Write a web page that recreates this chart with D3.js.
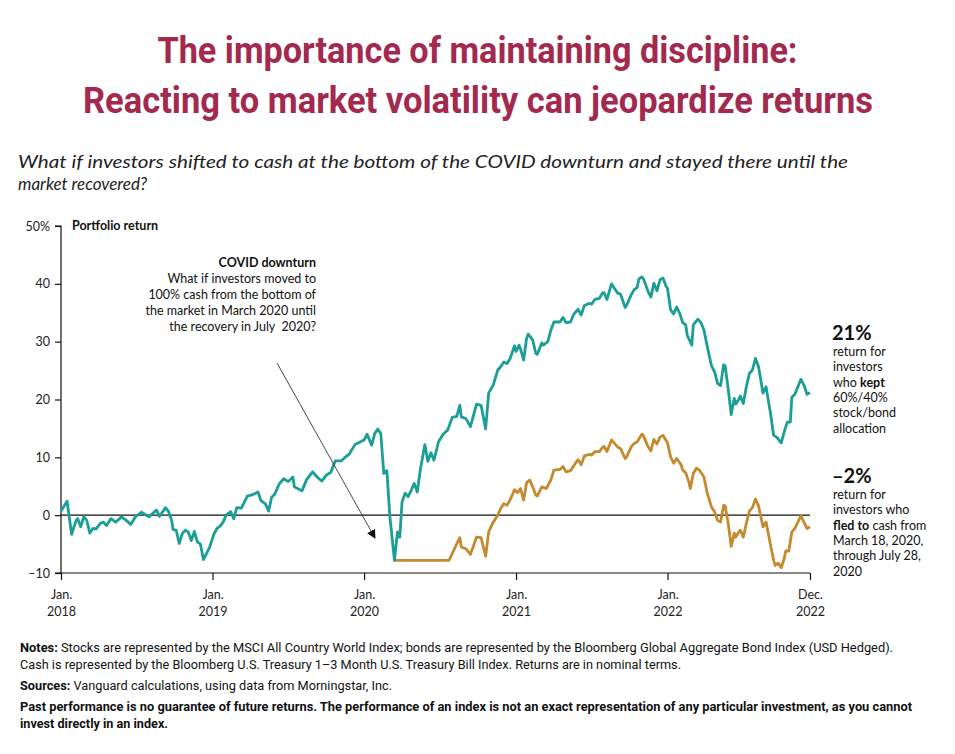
<!DOCTYPE html>
<html lang="en">
<head>
<meta charset="utf-8">
<title>The importance of maintaining discipline</title>
<script src="https://d3js.org/d3.v7.min.js"></script>
<style>
  body { margin: 0; background: #fff; }
  svg { display: block; }
  .title { fill: #a3294f; font-family: Roboto, sans-serif; font-weight: 700; font-size: 36px; }
  .sub { fill: #222; font-family: Lato, sans-serif; font-style: italic; font-size: 17px; }
  .axis text { font-family: Lato, sans-serif; font-size: 12.5px; fill: #222; }
  .lbl { font-family: Lato, sans-serif; font-size: 12.5px; fill: #111; }
  .big { font-size: 20px; font-weight: 700; }
  .foot { font-family: Roboto, sans-serif; font-size: 12px; fill: #111; }
</style>
</head>
<body>
<svg id="chart"></svg>
<script>
// decimal year, portfolio return (%)
const kept = [
  [2018.00,0.7],[2018.04,2.4],[2018.07,-3.3],[2018.10,-0.9],[2018.11,-0.6],[2018.13,-2.0],[2018.15,-0.3],
  [2018.17,-0.9],[2018.19,-3.1],[2018.21,-2.3],[2018.23,-2.4],[2018.26,-1.4],[2018.28,-1.2],[2018.30,-1.8],
  [2018.33,-0.6],[2018.36,-1.2],[2018.40,-0.3],[2018.43,-0.9],[2018.46,-1.6],[2018.49,-0.3],[2018.53,0.5],
  [2018.55,0.2],[2018.58,-0.3],[2018.63,0.9],[2018.65,-0.2],[2018.69,1.3],[2018.71,0.6],[2018.73,-0.9],
  [2018.74,-2.5],[2018.76,-2.6],[2018.78,-4.9],[2018.80,-3.2],[2018.82,-2.6],[2018.84,-2.9],[2018.86,-4.4],
  [2018.88,-2.8],[2018.90,-4.6],[2018.92,-5.0],[2018.94,-7.7],[2018.98,-5.6],[2019.01,-3.2],[2019.03,-2.3],
  [2019.05,-1.9],[2019.07,-1.2],[2019.09,0.0],[2019.12,0.6],[2019.14,-0.6],[2019.16,1.3],[2019.19,1.2],
  [2019.23,3.3],[2019.26,3.5],[2019.30,4.0],[2019.32,2.5],[2019.35,1.9],[2019.37,0.7],[2019.39,3.1],
  [2019.41,3.6],[2019.44,5.4],[2019.47,6.3],[2019.50,5.8],[2019.53,6.6],[2019.54,4.9],[2019.59,4.2],
  [2019.62,6.1],[2019.66,7.5],[2019.69,6.6],[2019.72,5.9],[2019.75,6.9],[2019.78,7.4],[2019.81,9.4],
  [2019.85,9.4],[2019.87,9.9],[2019.90,10.5],[2019.94,12.2],[2019.97,12.6],[2020.00,13.0],[2020.02,14.0],
  [2020.05,12.1],[2020.07,14.1],[2020.09,14.9],[2020.11,14.1],[2020.13,7.2],[2020.15,7.7],[2020.17,-0.3],
  [2020.20,-7.8],[2020.22,-2.9],[2020.235,-3.8],[2020.25,2.3],[2020.27,3.8],[2020.29,3.2],[2020.31,4.3],
  [2020.33,5.5],[2020.35,4.0],[2020.37,7.8],[2020.40,12.2],[2020.42,9.3],[2020.44,10.8],[2020.46,9.5],
  [2020.49,12.7],[2020.52,14.0],[2020.55,14.7],[2020.58,16.9],[2020.61,17.1],[2020.63,19.0],[2020.64,17.0],
  [2020.67,16.7],[2020.70,15.3],[2020.74,19.2],[2020.77,19.0],[2020.80,14.9],[2020.82,21.1],[2020.85,22.5],
  [2020.88,25.1],[2020.90,25.7],[2020.92,26.5],[2020.94,26.2],[2020.96,27.0],[2020.99,29.3],[2021.00,28.3],
  [2021.02,29.4],[2021.03,28.7],[2021.05,26.8],[2021.07,30.6],[2021.08,31.3],[2021.11,30.3],[2021.13,28.0],
  [2021.14,27.8],[2021.17,29.8],[2021.18,29.4],[2021.21,30.0],[2021.23,32.0],[2021.25,33.4],[2021.27,33.4],
  [2021.29,33.4],[2021.31,34.2],[2021.33,33.3],[2021.36,33.4],[2021.38,34.7],[2021.41,35.6],[2021.43,34.6],
  [2021.45,36.2],[2021.48,36.6],[2021.50,36.5],[2021.52,37.3],[2021.55,37.5],[2021.57,38.4],[2021.58,38.5],
  [2021.60,37.3],[2021.63,40.0],[2021.65,39.2],[2021.67,38.4],[2021.69,38.2],[2021.72,35.9],[2021.73,36.3],
  [2021.76,38.1],[2021.78,39.0],[2021.80,39.4],[2021.81,40.8],[2021.83,41.2],[2021.84,40.9],[2021.87,38.8],
  [2021.89,37.7],[2021.91,40.1],[2021.93,38.8],[2021.95,40.7],[2021.97,41.0],[2021.99,39.6],[2022.00,39.2],
  [2022.02,35.5],[2022.04,34.8],[2022.06,36.0],[2022.08,34.9],[2022.10,33.3],[2022.12,32.9],[2022.13,31.1],
  [2022.16,29.4],[2022.17,32.9],[2022.20,33.9],[2022.22,33.3],[2022.24,32.0],[2022.26,29.4],[2022.29,25.8],
  [2022.31,24.8],[2022.33,22.8],[2022.35,22.4],[2022.37,26.0],[2022.38,25.8],[2022.40,21.9],[2022.42,17.4],
  [2022.44,20.2],[2022.45,19.2],[2022.47,20.0],[2022.48,20.6],[2022.50,19.3],[2022.52,22.2],[2022.54,24.5],
  [2022.56,25.1],[2022.58,27.1],[2022.60,25.7],[2022.63,21.1],[2022.65,22.2],[2022.68,17.5],[2022.70,13.8],
  [2022.72,13.5],[2022.75,12.5],[2022.77,14.4],[2022.79,16.1],[2022.81,16.1],[2022.82,20.4],[2022.84,20.9],
  [2022.88,23.5],[2022.90,22.5],[2022.92,20.9],[2022.94,21.2]
];

const fled = [
  [2020.20,-7.8],[2020.56,-7.8],[2020.60,-5.5],[2020.63,-3.9],[2020.64,-5.5],[2020.67,-5.8],[2020.70,-6.8],
  [2020.74,-3.8],[2020.77,-3.9],[2020.80,-7.1],[2020.82,-2.9],[2020.85,-1.2],[2020.88,0.0],[2020.90,1.2],
  [2020.92,2.0],[2020.94,1.7],[2020.96,2.6],[2020.99,4.4],[2021.01,3.9],[2021.03,4.6],[2021.05,2.6],
  [2021.07,5.6],[2021.09,6.1],[2021.11,4.9],[2021.13,3.5],[2021.14,3.3],[2021.17,4.9],[2021.20,4.6],
  [2021.23,6.1],[2021.25,7.8],[2021.29,7.9],[2021.31,8.4],[2021.33,7.5],[2021.36,7.7],[2021.39,8.9],
  [2021.41,9.6],[2021.43,8.7],[2021.45,10.2],[2021.48,10.5],[2021.50,10.4],[2021.52,11.0],[2021.55,11.0],
  [2021.57,11.7],[2021.58,11.9],[2021.60,11.0],[2021.63,13.0],[2021.65,12.4],[2021.67,11.8],[2021.69,11.5],
  [2021.72,9.8],[2021.73,10.1],[2021.76,11.8],[2021.78,12.4],[2021.80,12.7],[2021.83,14.0],[2021.84,13.8],
  [2021.87,11.9],[2021.89,11.1],[2021.91,13.1],[2021.93,12.3],[2021.95,13.5],[2021.97,13.8],[2021.99,12.9],
  [2022.00,12.5],[2022.02,10.1],[2022.04,9.0],[2022.06,9.8],[2022.09,8.7],[2022.10,7.8],[2022.12,7.3],
  [2022.14,5.8],[2022.15,4.6],[2022.17,7.2],[2022.19,8.1],[2022.21,7.8],[2022.24,6.6],[2022.26,4.0],
  [2022.29,1.4],[2022.31,0.6],[2022.33,-0.9],[2022.35,-1.2],[2022.37,1.7],[2022.38,1.6],[2022.40,-1.4],
  [2022.42,-5.4],[2022.44,-3.1],[2022.45,-3.8],[2022.47,-2.9],[2022.48,-2.6],[2022.50,-3.8],[2022.52,-1.4],
  [2022.54,0.7],[2022.56,1.3],[2022.58,2.8],[2022.60,1.6],[2022.63,-2.0],[2022.65,-1.2],[2022.68,-5.2],
  [2022.70,-7.8],[2022.71,-8.7],[2022.73,-8.3],[2022.75,-9.1],[2022.77,-7.5],[2022.78,-6.2],[2022.80,-6.2],
  [2022.82,-2.9],[2022.84,-2.3],[2022.88,-0.1],[2022.90,-1.2],[2022.92,-2.3],[2022.94,-2.0]
];

const yTicks = [-10, 0, 10, 20, 30, 40, 50];
const xTickYears = [2018, 2019, 2020, 2021, 2022, 2022.94];
const xTickLabels = [["Jan.","2018"],["Jan.","2019"],["Jan.","2020"],["Jan.","2021"],["Jan.","2022"],["Dec.","2022"]];

const width = 955, height = 754;
const margin = {left: 61, right: 145, top: 226, bottom: 181};

// decimal year -> Date
const toDate = y => {
  const yr = Math.floor(y);
  const a = new Date(yr, 0, 1), b = new Date(yr + 1, 0, 1);
  return new Date(+a + (y - yr) * (b - a));
};

const svg = d3.select("#chart").attr("width", width).attr("height", height);

const x = d3.scaleTime()
  .domain([toDate(2018), toDate(2022.94)])
  .range([margin.left, width - margin.right]);
const y = d3.scaleLinear()
  .domain([-10, 50])
  .range([height - margin.bottom, margin.top]);

// titles
svg.append("text").attr("class", "title").attr("x", width / 2).attr("y", 63)
  .attr("text-anchor", "middle").attr("textLength", 640).attr("lengthAdjust", "spacingAndGlyphs")
  .text("The importance of maintaining discipline:");
svg.append("text").attr("class", "title").attr("x", width / 2 + 0.5).attr("y", 113)
  .attr("text-anchor", "middle").attr("textLength", 790).attr("lengthAdjust", "spacingAndGlyphs")
  .text("Reacting to market volatility can jeopardize returns");

svg.append("text").attr("class", "sub").attr("x", 18).attr("y", 168)
  .attr("textLength", 830).attr("lengthAdjust", "spacingAndGlyphs")
  .text("What if investors shifted to cash at the bottom of the COVID downturn and stayed there until the");
svg.append("text").attr("class", "sub").attr("x", 18).attr("y", 190)
  .text("market recovered?");

// y axis
const yAxis = svg.append("g").attr("class", "axis")
  .attr("transform", `translate(${margin.left},0)`)
  .call(d3.axisLeft(y).tickValues(yTicks).tickSize(6).tickPadding(5)
    .tickFormat(d => d === 50 ? "50%" : (d < 0 ? "\u2013" + Math.abs(d) : d)));
yAxis.select(".domain").attr("stroke", "#111").attr("stroke-width", 1.2).attr("d", `M-6,${y(50)}H0V${y(-10)}`);
yAxis.selectAll(".tick line").attr("stroke", "#111").attr("stroke-width", 1.2);

// x axis
const xAxis = svg.append("g").attr("class", "axis")
  .attr("transform", `translate(0,${y(-10)})`)
  .call(d3.axisBottom(x).tickValues(xTickYears.map(toDate)).tickSize(7).tickFormat(""));
xAxis.select(".domain").attr("stroke", "#111").attr("stroke-width", 1.2)
  .attr("d", `M${margin.left - 6},0H${x(toDate(2022.94))}`);
xAxis.selectAll(".tick line").attr("stroke", "#111").attr("stroke-width", 1.2);
xAxis.selectAll(".tick").each(function(d, i) {
  const t = d3.select(this).append("text").attr("fill", "#222").attr("text-anchor", "middle");
  t.append("tspan").attr("x", 0).attr("y", 26).text(xTickLabels[i][0]);
  t.append("tspan").attr("x", 0).attr("y", 43).text(xTickLabels[i][1]);
});

// zero line
svg.append("line").attr("x1", margin.left).attr("x2", x(toDate(2022.94)))
  .attr("y1", y(0)).attr("y2", y(0)).attr("stroke", "#111").attr("stroke-width", 1.2);

svg.append("text").attr("class", "lbl").attr("x", 72).attr("y", y(50) + 4)
  .attr("font-weight", 700).text("Portfolio return");

// lines
const line = d3.line().x(d => x(toDate(d[0]))).y(d => y(d[1]));
svg.append("path").datum(fled).attr("fill", "none").attr("stroke", "#c48a2e")
  .attr("stroke-width", 2.8).attr("stroke-linejoin", "round").attr("d", line);
svg.append("path").datum(kept).attr("fill", "none").attr("stroke", "#1a9e96")
  .attr("stroke-width", 2.8).attr("stroke-linejoin", "round").attr("d", line);

// COVID annotation
const ann = svg.append("text").attr("class", "lbl").attr("text-anchor", "end");
[["COVID downturn", true], ["What if investors moved to"], ["100% cash from the bottom of"],
 ["the market in March 2020 until"], ["the recovery in July  2020?"]].forEach((r, i) => {
  ann.append("tspan").attr("x", 316).attr("y", 267 + i * 16)
    .attr("font-weight", r[1] ? 700 : 400).attr("xml:space", "preserve").text(r[0]);
});
svg.append("defs").append("marker").attr("id", "arr").attr("viewBox", "0 0 10 10")
  .attr("refX", 9).attr("refY", 5).attr("markerWidth", 9).attr("markerHeight", 9)
  .attr("orient", "auto").attr("markerUnits", "userSpaceOnUse")
  .append("path").attr("d", "M0,0L10,5L0,10Z").attr("fill", "#111");
svg.append("line").attr("x1", 277).attr("y1", 363).attr("x2", 375).attr("y2", 538)
  .attr("stroke", "#333").attr("stroke-width", 0.9).attr("marker-end", "url(#arr)");

// right labels
function sideLabel(y0, big, rows) {
  svg.append("text").attr("class", "lbl big").attr("x", 832).attr("y", y0).text(big);
  rows.forEach((r, i) => {
    const t = svg.append("text").attr("class", "lbl").attr("x", 833).attr("y", y0 + 16 + i * 15.3);
    r.forEach(p => t.append("tspan").attr("font-weight", p[1] ? 700 : 400).text(p[0]));
  });
}
sideLabel(340, "21%", [[["return for"]], [["investors"]], [["who "], ["kept", true]],
  [["60%/40%"]], [["stock/bond"]], [["allocation"]]]);
sideLabel(483, "\u20132%", [[["return for"]], [["investors who"]], [["fled to", true], [" cash from"]],
  [["March 18, 2020,"]], [["through July 28,"]], [["2020"]]]);

// footer
function foot(yy, parts, len) {
  const t = svg.append("text").attr("class", "foot").attr("x", 20).attr("y", yy);
  if (len) t.attr("textLength", len).attr("lengthAdjust", "spacingAndGlyphs");
  parts.forEach(p => t.append("tspan").attr("font-weight", p[1] ? 700 : 400).text(p[0]));
}
foot(652, [["Notes:", true], [" Stocks are represented by the MSCI All Country World Index; bonds are represented by the Bloomberg Global Aggregate Bond Index (USD Hedged)."]], 873);
foot(669, [["Cash is represented by the Bloomberg U.S. Treasury 1\u20133 Month U.S. Treasury Bill Index. Returns are in nominal terms."]], 661);
foot(690, [["Sources:", true], [" Vanguard calculations, using data from Morningstar, Inc."]], 372);
foot(711, [["Past performance is no guarantee of future returns. The performance of an index is not an exact representation of any particular investment, as you cannot", true]], 892);
foot(728, [["invest directly in an index.", true]], 148);
</script>
</body>
</html>
